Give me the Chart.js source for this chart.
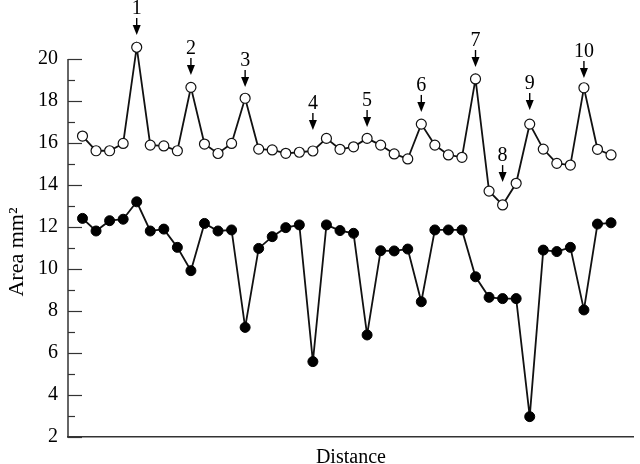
<!DOCTYPE html>
<html>
<head>
<meta charset="utf-8">
<script src="https://cdn.jsdelivr.net/npm/chart.js@4"></script>
<style>
  html, body { margin: 0; padding: 0; background: #fff; }
</style>
</head>
<body>
<canvas id="myChart" width="640" height="464"></canvas>
<script>
const openArea = [16.33, 15.63, 15.63, 15.98, 20.56, 15.9, 15.86, 15.63, 18.65, 15.95,
                  15.5, 15.98, 18.13, 15.71, 15.67, 15.51, 15.56, 15.62, 16.22, 15.7,
                  15.82, 16.22, 15.9, 15.48, 15.24, 16.9, 15.9, 15.43, 15.32, 19.05,
                  13.71, 13.05, 14.08, 16.9, 15.71, 15.03, 14.95, 18.63, 15.7, 15.43];
const filledArea = [12.41, 11.81, 12.3, 12.37, 13.2, 11.81, 11.9, 11.03, 9.92, 12.17,
                    11.81, 11.86, 7.22, 10.98, 11.54, 11.97, 12.1, 5.59, 12.1, 11.83,
                    11.7, 6.86, 10.87, 10.86, 10.95, 8.44, 11.86, 11.86, 11.86, 9.63,
                    8.65, 8.59, 8.59, 2.97, 10.9, 10.83, 11.03, 8.05, 12.14, 12.2];

// numbered arrows: which point, the label, and the value the arrow tip points at
const markIndex = [4, 8, 12, 17, 21, 25, 29, 31, 33, 37];
const markLabels = ['1', '2', '3', '4', '5', '6', '7', '8', '9', '10'];
const markTips = [21.14, 19.24, 18.67, 16.62, 16.76, 17.48, 19.62, 14.14, 17.57, 19.1];

const yTicks = [2, 4, 6, 8, 10, 12, 14, 16, 18, 20];
const yTitle = 'Area mm\u00b2';

const serif = '"Liberation Serif", "DejaVu Serif", serif';

function toPoints(arr) {
    return arr.map((v, i) => ({x: i, y: v}));
}

// y axis line only spans the labelled range; tick marks point into the plot
const innerTicks = {
    id: 'innerTicks',
    afterDraw(chart) {
        const ctx = chart.ctx;
        const y = chart.scales.y;
        const left = chart.chartArea.left;
        const first = yTicks[0];
        const last = yTicks[yTicks.length - 1];
        ctx.save();
        ctx.strokeStyle = '#333';
        ctx.lineWidth = 1.5;
        ctx.beginPath();
        ctx.moveTo(left, y.getPixelForValue(first) + 0.75);
        ctx.lineTo(left, y.getPixelForValue(last));
        ctx.stroke();
        ctx.lineWidth = 1.2;
        for (let v = first; v <= last; v++) {
            const py = Math.round(y.getPixelForValue(v)) + 0.5;
            const len = yTicks.includes(v) ? 14 : 7;
            ctx.beginPath();
            ctx.moveTo(left, py);
            ctx.lineTo(left + len, py);
            ctx.stroke();
        }
        // axis title, centred on the labelled span
        const mid = (y.getPixelForValue(first) + y.getPixelForValue(last)) / 2 + 4;
        ctx.translate(17, mid);
        ctx.rotate(-Math.PI / 2);
        ctx.fillStyle = '#000';
        ctx.font = '22px ' + serif;
        ctx.textAlign = 'center';
        ctx.textBaseline = 'middle';
        ctx.fillText(yTitle, 0, 0);
        ctx.restore();
    }
};

const arrows = {
    id: 'arrows',
    afterDatasetsDraw(chart) {
        const ctx = chart.ctx;
        const xs = chart.scales.x;
        const ys = chart.scales.y;
        ctx.save();
        ctx.fillStyle = '#000';
        ctx.strokeStyle = '#000';
        ctx.lineWidth = 1.4;
        ctx.font = '20px ' + serif;
        ctx.textAlign = 'center';
        ctx.textBaseline = 'alphabetic';
        markIndex.forEach((idx, k) => {
            const px = xs.getPixelForValue(idx);
            const tip = ys.getPixelForValue(markTips[k]);
            ctx.beginPath();
            ctx.moveTo(px, tip - 17);
            ctx.lineTo(px, tip - 6);
            ctx.stroke();
            ctx.beginPath();
            ctx.moveTo(px, tip);
            ctx.lineTo(px - 4, tip - 10);
            ctx.lineTo(px + 4, tip - 10);
            ctx.closePath();
            ctx.fill();
            ctx.fillText(markLabels[k], px, tip - 21);
        });
        ctx.restore();
    }
};

const myChartRef = document.getElementById('myChart').getContext('2d');

new Chart(myChartRef, {
    type: 'line',
    data: {
        datasets: [{
            label: 'open',
            data: toPoints(openArea),
            borderColor: '#111',
            borderWidth: 1.8,
            pointRadius: 5,
            pointBorderWidth: 1.2,
            pointBackgroundColor: '#fff',
            pointBorderColor: '#111',
            tension: 0,
            clip: false
        }, {
            label: 'filled',
            data: toPoints(filledArea),
            borderColor: '#111',
            borderWidth: 1.8,
            pointRadius: 5,
            pointBorderWidth: 1,
            pointBackgroundColor: '#000',
            pointBorderColor: '#000',
            tension: 0,
            clip: false
        }]
    },
    options: {
        responsive: false,
        animation: false,
        layout: {padding: {top: 44.3, right: 0, bottom: 0, left: 0}},
        plugins: {
            legend: {display: false},
            tooltip: {enabled: false}
        },
        scales: {
            x: {
                type: 'linear',
                min: -1.07,
                max: 40.68,
                grid: {display: false, drawTicks: false},
                border: {display: true, color: '#333', width: 1.5},
                ticks: {display: false},
                title: {
                    display: true,
                    text: 'Distance',
                    color: '#000',
                    font: {family: serif, size: 20, lineHeight: 0.6},
                    padding: {top: 0, bottom: 0}
                },
                afterFit(scale) { scale.height = 27; }
            },
            y: {
                min: 2,
                max: 20.7,
                grid: {display: false, drawTicks: false},
                border: {display: false},
                ticks: {
                    padding: 10,
                    color: '#000',
                    font: {family: serif, size: 20}
                },
                afterBuildTicks(scale) {
                    scale.ticks = yTicks.map(v => ({value: v}));
                },
                afterFit(scale) { scale.width = 68; }
            }
        }
    },
    plugins: [innerTicks, arrows]
});
</script>
</body>
</html>
